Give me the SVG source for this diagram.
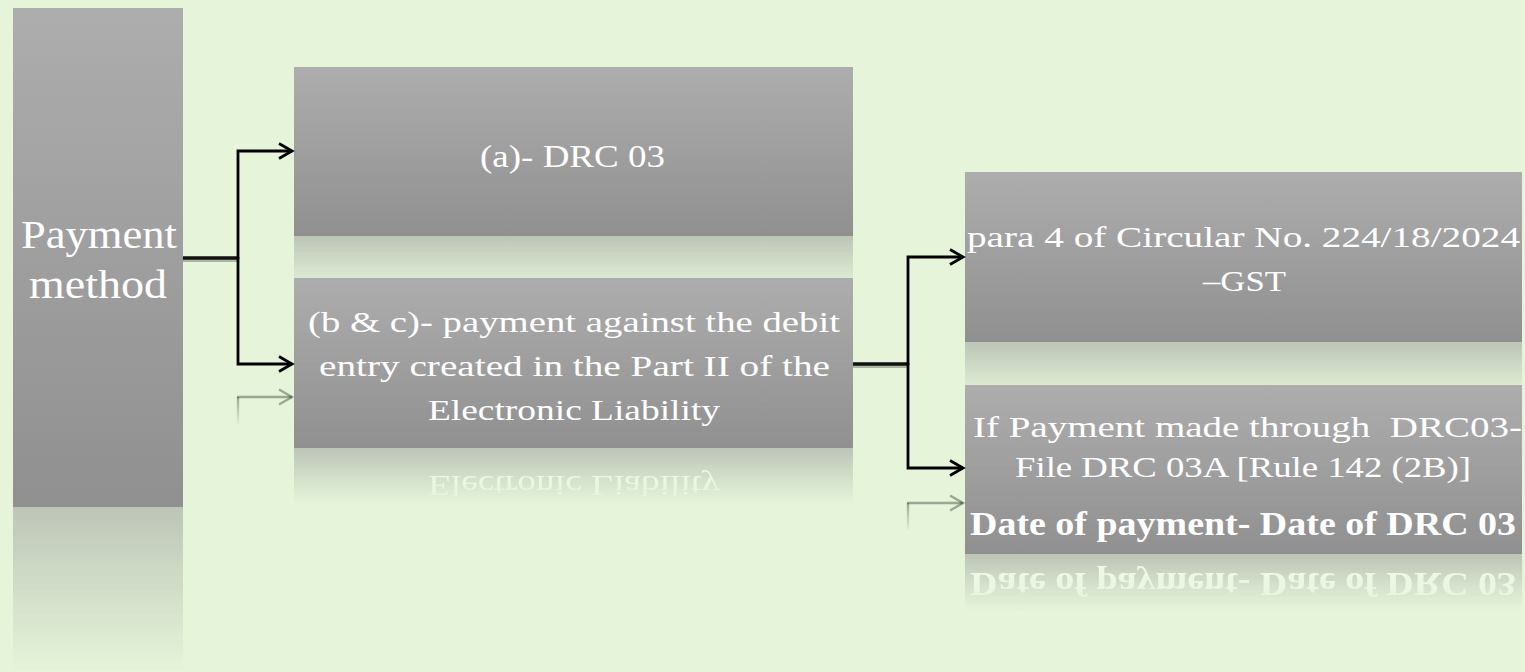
<svg xmlns="http://www.w3.org/2000/svg" xmlns:xlink="http://www.w3.org/1999/xlink" width="1525" height="672" viewBox="0 0 1525 672">
  <style>
    .box { fill: url(#boxFill); }
    .lbl { fill: #ffffff; font-family: "Liberation Serif", "DejaVu Serif", serif; font-size: 29.5px; }
    .big { font-size: 41px; }
    .mid { font-size: 31px; }
    .bold { font-size: 33px; font-weight: bold; }
    .trunk { fill: none; stroke: #111111; stroke-width: 3.4; }
    .trunk-shadow { fill: none; stroke: #000000; stroke-opacity: 0.25; stroke-width: 3; }
    .branch { fill: none; stroke: #000000; stroke-width: 2.8; marker-end: url(#chevron); }
    .ghost { fill: none; stroke: #000000; stroke-opacity: 0.32; stroke-width: 2.4; marker-end: url(#chevronGhost); }
  </style>
  <defs>
    <linearGradient id="boxFill" x1="0" y1="0" x2="0" y2="1">
      <stop offset="0" stop-color="#adadad"/>
      <stop offset="1" stop-color="#909090"/>
    </linearGradient>
    <!-- reflection fade: about half-opaque at the box edge, gone after a third of the height -->
    <linearGradient id="fadeGrad" x1="0" y1="1" x2="0" y2="0.667">
      <stop offset="0" stop-color="#ffffff" stop-opacity="0.48"/>
      <stop offset="1" stop-color="#ffffff" stop-opacity="0"/>
    </linearGradient>
    <mask id="reflect" maskContentUnits="objectBoundingBox">
      <rect x="0" y="0" width="1" height="1" fill="url(#fadeGrad)"/>
    </mask>
    <linearGradient id="stubFade1" gradientUnits="userSpaceOnUse" x1="0" y1="397" x2="0" y2="426">
      <stop offset="0" stop-color="#000000" stop-opacity="0.32"/>
      <stop offset="1" stop-color="#000000" stop-opacity="0"/>
    </linearGradient>
    <linearGradient id="stubFade2" gradientUnits="userSpaceOnUse" x1="0" y1="503" x2="0" y2="532">
      <stop offset="0" stop-color="#000000" stop-opacity="0.32"/>
      <stop offset="1" stop-color="#000000" stop-opacity="0"/>
    </linearGradient>
    <marker id="chevron" markerUnits="userSpaceOnUse" markerWidth="20" markerHeight="20" refX="0" refY="0" viewBox="-16 -10 20 20" orient="auto" overflow="visible">
      <path d="M-13,-7.5 L0,0 L-13,7.5" fill="none" stroke="#000000" stroke-width="2.8"/>
    </marker>
    <marker id="chevronGhost" markerUnits="userSpaceOnUse" markerWidth="20" markerHeight="20" refX="0" refY="0" viewBox="-16 -10 20 20" orient="auto" overflow="visible">
      <path d="M-13,-7.5 L0,0 L-13,7.5" fill="none" stroke="#000000" stroke-opacity="0.32" stroke-width="2.4"/>
    </marker>
  </defs>

  <rect x="0" y="0" width="1525" height="672" fill="#e6f5da"/>

  <g id="node-payment">
    <g id="payment-face">
      <rect class="box" x="13" y="8" width="170" height="499"/>
      <text class="lbl big" x="21" y="248" textLength="156" lengthAdjust="spacingAndGlyphs">Payment</text>
      <text class="lbl big" x="29" y="298" textLength="138" lengthAdjust="spacingAndGlyphs">method</text>
    </g>
    <use xlink:href="#payment-face" transform="matrix(1 0 0 -1 0 1014)" mask="url(#reflect)"/>
  </g>

  <g id="node-a">
    <g id="a-face">
      <rect class="box" x="294" y="67" width="559" height="169"/>
      <text class="lbl mid" x="480" y="167" textLength="185" lengthAdjust="spacingAndGlyphs">(a)- DRC 03</text>
    </g>
    <use xlink:href="#a-face" transform="matrix(1 0 0 -1 0 472)" mask="url(#reflect)"/>
  </g>

  <g id="node-bc">
    <g id="bc-face">
      <rect class="box" x="294" y="278" width="559" height="170"/>
      <text class="lbl" x="308" y="332" textLength="532" lengthAdjust="spacingAndGlyphs">(b &amp; c)- payment against the debit</text>
      <text class="lbl" x="319" y="376" textLength="511" lengthAdjust="spacingAndGlyphs">entry created in the Part II of the</text>
      <text class="lbl" x="428" y="420" textLength="292" lengthAdjust="spacingAndGlyphs">Electronic Liability</text>
    </g>
    <use xlink:href="#bc-face" transform="matrix(1 0 0 -1 0 896)" mask="url(#reflect)"/>
  </g>

  <g id="node-circular">
    <g id="circular-face">
      <rect class="box" x="965" y="172" width="557" height="170"/>
      <text class="lbl" x="967" y="247" textLength="553" lengthAdjust="spacingAndGlyphs">para 4 of Circular No. 224/18/2024</text>
      <text class="lbl" x="1203" y="291" textLength="83" lengthAdjust="spacingAndGlyphs">–GST</text>
    </g>
    <use xlink:href="#circular-face" transform="matrix(1 0 0 -1 0 684)" mask="url(#reflect)"/>
  </g>

  <g id="node-drc03a">
    <g id="drc03a-face">
      <rect class="box" x="965" y="385" width="557" height="169"/>
      <text class="lbl" x="973" y="437" textLength="549" lengthAdjust="spacingAndGlyphs" style="white-space:pre">If Payment made through  DRC03-</text>
      <text class="lbl" x="1015" y="477" textLength="456" lengthAdjust="spacingAndGlyphs">File DRC 03A [Rule 142 (2B)]</text>
      <text class="lbl bold" x="970" y="535" textLength="546" lengthAdjust="spacingAndGlyphs">Date of payment- Date of DRC 03</text>
    </g>
    <use xlink:href="#drc03a-face" transform="matrix(1 0 0 -1 0 1108)" mask="url(#reflect)"/>
  </g>

  <g id="connectors">
    <!-- Payment method -> (a) and (b & c) -->
    <path class="trunk-shadow" d="M183 260.5 H238"/>
    <path class="trunk" d="M183 258 H239"/>
    <path class="branch" d="M238 259 V151 H292"/>
    <path class="branch" d="M238 257 V364 H292"/>
    <path d="M238 426 V397" fill="none" stroke="url(#stubFade1)" stroke-width="2.4"/>
    <path class="ghost" d="M237 397 H292"/>

    <!-- (b & c) -> circular and DRC 03A -->
    <path class="trunk-shadow" d="M853 366.5 H908"/>
    <path class="trunk" d="M853 364 H909"/>
    <path class="branch" d="M908 365 V257 H963"/>
    <path class="branch" d="M908 363 V468 H963"/>
    <path d="M908 532 V503" fill="none" stroke="url(#stubFade2)" stroke-width="2.4"/>
    <path class="ghost" d="M907 503 H963"/>
  </g>
</svg>
